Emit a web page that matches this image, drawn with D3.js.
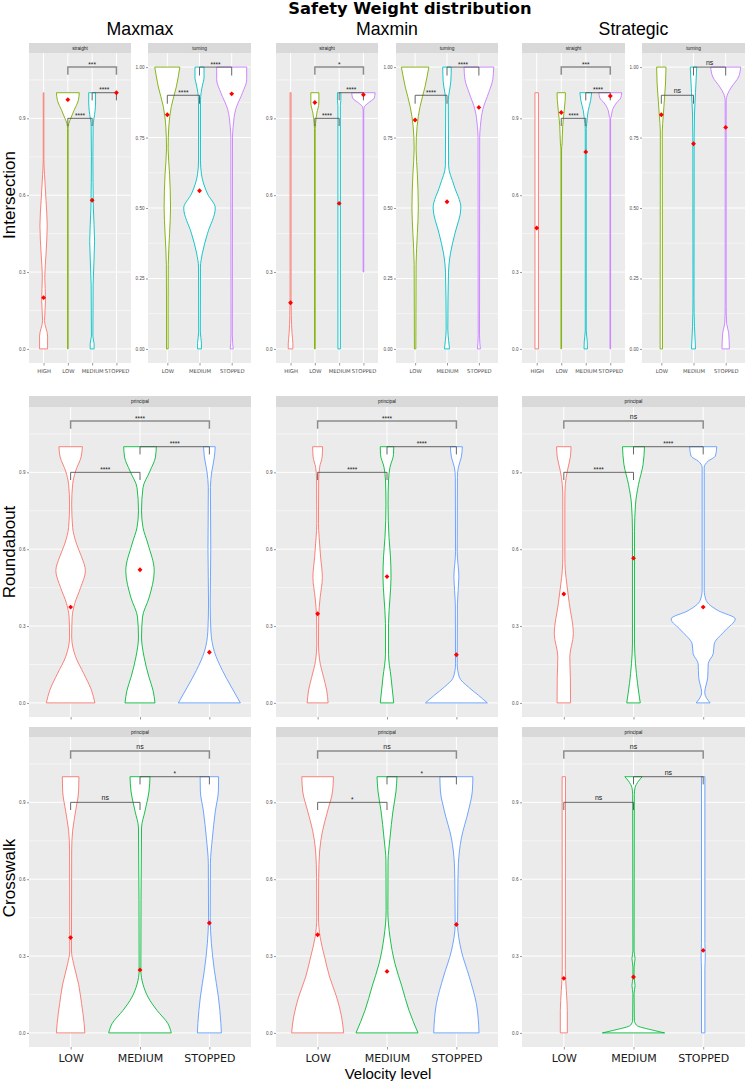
<!DOCTYPE html>
<html>
<head>
<meta charset="utf-8">
<script src="https://cdn.jsdelivr.net/npm/d3@7"></script>
<style>
  body { margin: 0; background: #fff; }
  svg { font-family: "Liberation Sans", Arial, sans-serif; }
</style>
</head>
<body>
<svg id="chart" width="748" height="1081"></svg>
<script>
// ---- labels / categories ----
const TITLE = "Safety Weight distribution";
const COLUMNS = ["Maxmax", "Maxmin", "Strategic"];
const ROWS = ["Intersection", "Roundabout", "Crosswalk"];
const X_TITLE = "Velocity level";
const LEVELS_4 = ["HIGH", "LOW", "MEDIUM", "STOPPED"];
const LEVELS_3 = ["LOW", "MEDIUM", "STOPPED"];
const COLORS_4 = ["#F8766D", "#7CAE00", "#00BFC4", "#C77CFF"];
const COLORS_3 = ["#F8766D", "#00BA38", "#619CFF"];
const TICKS_A = [0, 0.3, 0.6, 0.9];
const MINOR_A = [0.15, 0.45, 0.75, 1.05];
const TICKS_B = [0, 0.25, 0.5, 0.75, 1];
const MINOR_B = [0.125, 0.375, 0.625, 0.875];

// ---- violin outlines: [value, half width in category steps], bottom to top ----
// Intersection / straight
const MAXMAX_STRAIGHT = [
  [[0,.165],[.05,.165],[.11,.04],[.19,.08],[.28,.05],[.37,.1],[.48,.15],[.58,.1],[.68,.04],[.74,.012],[1,.012]],
  [[0,.012],[.86,.012],[.88,.04],[.9,.12],[.93,.25],[.97,.43],[1,.47]],
  [[0,.08],[.02,.08],[.05,.03],[.25,.04],[.42,.1],[.55,.05],[.75,.03],[.87,.04],[.93,.12],[.96,.14],[1,.14]],
  []
];
const MAXMIN_STRAIGHT = [
  [[0,.095],[.02,.095],[.06,.06],[.13,.03],[.2,.02],[1,.02]],
  [[0,.015],[.86,.015],[.88,.03],[.92,.08],[.96,.165],[1,.165]],
  [[0,.05],[.95,.05],[.97,.07],[1,.07]],
  [[.3,.012],[.93,.012],[.945,.04],[.96,.2],[.98,.45],[1,.48]]
];
const STRATEGIC_STRAIGHT = [
  [[0,.07],[1,.07]],
  [[0,.012],[.78,.012],[.8,.033],[.87,.06],[.93,.12],[.97,.16],[1,.17]],
  [[0,.07],[.03,.06],[.07,.02],[.86,.02],[.88,.04],[.93,.1],[.97,.2],[1,.24]],
  [[0,.012],[.9,.012],[.905,.033],[.93,.08],[.96,.25],[.98,.43],[1,.465]]
];
// Intersection / turning
const MAXMAX_TURNING = [
  [[0,.025],[.17,.025],[.3,.03],[.41,.07],[.5,.1],[.62,.07],[.71,.025],[.79,.047],[.86,.124],[.93,.28],[1,.39]],
  [[0,.06],[.02,.06],[.06,.025],[.29,.03],[.34,.09],[.41,.25],[.5,.49],[.55,.25],[.62,.06],[.67,.03],[.88,.03],[.94,.1],[.96,.14],[1,.14]],
  [[0,.047],[.02,.03],[.05,.02],[.75,.025],[.79,.047],[.85,.124],[.91,.34],[.955,.466],[1,.466]]
];
const MAXMIN_TURNING = [
  [[0,.022],[.3,.03],[.41,.07],[.5,.1],[.62,.07],[.71,.03],[.79,.062],[.86,.155],[.93,.31],[1,.43]],
  [[0,.078],[.03,.05],[.07,.025],[.27,.047],[.34,.11],[.41,.25],[.5,.435],[.58,.22],[.65,.05],[.88,.04],[.95,.12],[1,.134]],
  [[0,.047],[.02,.03],[.05,.02],[.75,.025],[.79,.047],[.85,.124],[.91,.31],[.955,.435],[1,.466]]
];
const STRATEGIC_TURNING = [
  [[0,.037],[.77,.03],[.83,.062],[.88,.093],[.94,.13],[1,.146]],
  [[0,.062],[.08,.03],[.18,.015],[.75,.02],[.83,.03],[.91,.062],[1,.1]],
  [[0,.115],[.057,.093],[.09,.03],[.15,.015],[.88,.015],[.905,.062],[.93,.186],[.965,.4],[1,.466]]
];
// Roundabout
const MAXMAX_ROUNDABOUT = [
  [[0,.35],[.05,.3],[.114,.19],[.18,.072],[.257,.015],[.335,.022],[.387,.058],[.45,.144],[.516,.213],[.57,.158],[.62,.086],[.685,.029],[.776,.015],[.853,.029],[.905,.072],[.96,.151],[1,.169]],
  [[0,.216],[.05,.187],[.1,.13],[.18,.058],[.257,.022],[.335,.036],[.41,.13],[.516,.205],[.62,.115],[.685,.043],[.75,.022],[.84,.043],[.905,.144],[.96,.223],[1,.235]],
  [[0,.447],[.062,.317],[.127,.187],[.2,.072],[.28,.022],[.39,.012],[.6,.02],[.84,.015],[.905,.036],[.96,.072],[1,.084]]
];
const MAXMIN_ROUNDABOUT = [
  [[0,.151],[.05,.13],[.1,.086],[.166,.029],[.23,.012],[.335,.015],[.41,.036],[.49,.068],[.57,.043],[.646,.022],[.7,.012],[.87,.015],[.92,.029],[.96,.065],[1,.072]],
  [[0,.097],[.1,.058],[.19,.022],[.31,.022],[.41,.043],[.49,.058],[.57,.05],[.646,.029],[.776,.015],[.87,.022],[.92,.043],[.97,.094],[1,.097]],
  [[0,.447],[.03,.317],[.062,.173],[.1,.043],[.153,.012],[.387,.015],[.49,.036],[.59,.012],[.88,.015],[.92,.029],[.96,.072],[1,.086]]
];
const STRATEGIC_ROUNDABOUT = [
  [[0,.097],[.1,.094],[.18,.086],[.27,.137],[.387,.079],[.464,.043],[.516,.022],[.57,.015],[.8,.015],[.853,.022],[.905,.05],[.96,.094],[1,.104]],
  [[0,.097],[.075,.058],[.153,.029],[.23,.015],[.67,.015],[.776,.029],[.853,.072],[.93,.137],[1,.158]],
  [[0,.1],[.04,.022],[.1,.065],[.153,.072],[.192,.144],[.23,.158],[.283,.317],[.328,.46],[.36,.216],[.4,.043],[.44,.015],[.92,.015],[.944,.072],[.963,.173],[1,.195]]
];
// Crosswalk
const MAXMAX_CROSSWALK = [
  [[0,.205],[.036,.195],[.114,.158],[.19,.115],[.27,.043],[.32,.012],[.71,.015],[.79,.029],[.866,.072],[.944,.115],[1,.12]],
  [[0,.451],[.036,.403],[.088,.245],[.14,.115],[.19,.043],[.244,.012],[.8,.022],[.866,.072],[.944,.13],[1,.144]],
  [[0,.173],[.036,.166],[.14,.13],[.244,.072],[.35,.029],[.45,.012],[.66,.015],[.76,.043],[.866,.086],[.944,.13],[1,.133]]
];
const MAXMIN_CROSSWALK = [
  [[0,.375],[.062,.346],[.14,.274],[.218,.173],[.296,.101],[.374,.036],[.45,.012],[.607,.015],[.71,.029],[.79,.072],[.866,.144],[.944,.216],[1,.228]],
  [[0,.447],[.088,.317],[.18,.216],[.27,.115],[.374,.043],[.477,.012],[.67,.015],[.76,.043],[.866,.086],[.944,.13],[1,.144]],
  [[0,.327],[.114,.288],[.218,.187],[.32,.072],[.425,.017],[.58,.022],[.66,.029],[.76,.072],[.866,.173],[.944,.23],[1,.238]]
];
const STRATEGIC_CROSSWALK = [
  [[0,.05],[.088,.05],[.166,.036],[.244,.022],[.96,.024],[1,.024]],
  [[0,.447],[.01,.288],[.03,.043],[.05,.012],[.153,.008],[.185,.022],[.218,.008],[.257,.008],[.29,.022],[.32,.008],[.93,.012],[.957,.022],[.983,.072],[1,.125]],
  [[0,.024],[.25,.024],[.3,.03],[.35,.024],[1,.024]]
];

// ---- group means (red diamonds) ----
const MEANS_STRAIGHT = [[0.20, 0.973, 0.58, 1.0], [0.18, 0.962, 0.568, 0.992], [0.472, 0.923, 0.769, 0.987]];
const MEANS_TURNING = [[0.831, 0.561, 0.905], [0.812, 0.522, 0.857], [0.831, 0.728, 0.786]];
const MEANS_ROUNDABOUT = [[0.374, 0.52, 0.198], [0.348, 0.493, 0.188], [0.425, 0.565, 0.374]];
const MEANS_CROSSWALK = [[0.372, 0.246, 0.429], [0.383, 0.24, 0.423], [0.213, 0.218, 0.322]];

// ---- pairwise comparisons: [group a, group b, bracket height, label] ----
const CMP_STRAIGHT = [
  [["LOW","MEDIUM",0.9,"****"], ["MEDIUM","STOPPED",1.0,"****"], ["LOW","STOPPED",1.1,"***"]],
  [["LOW","MEDIUM",0.9,"****"], ["MEDIUM","STOPPED",1.0,"****"], ["LOW","STOPPED",1.1,"*"]],
  [["LOW","MEDIUM",0.9,"****"], ["MEDIUM","STOPPED",1.0,"****"], ["LOW","STOPPED",1.1,"***"]]
];
const CMP_TURNING = [
  [["LOW","MEDIUM",0.9,"****"], ["MEDIUM","STOPPED",1.0,"****"]],
  [["LOW","MEDIUM",0.9,"****"], ["MEDIUM","STOPPED",1.0,"****"]],
  [["LOW","MEDIUM",0.9,"ns"], ["MEDIUM","STOPPED",1.0,"ns"]]
];
const CMP_ROUNDABOUT = [
  [["LOW","MEDIUM",0.9,"****"], ["MEDIUM","STOPPED",1.0,"****"], ["LOW","STOPPED",1.1,"****"]],
  [["LOW","MEDIUM",0.9,"****"], ["MEDIUM","STOPPED",1.0,"****"], ["LOW","STOPPED",1.1,"****"]],
  [["LOW","MEDIUM",0.9,"****"], ["MEDIUM","STOPPED",1.0,"****"], ["LOW","STOPPED",1.1,"ns"]]
];
const CMP_CROSSWALK = [
  [["LOW","MEDIUM",0.9,"ns"], ["MEDIUM","STOPPED",1.0,"*"], ["LOW","STOPPED",1.1,"ns"]],
  [["LOW","MEDIUM",0.9,"*"], ["MEDIUM","STOPPED",1.0,"*"], ["LOW","STOPPED",1.1,"ns"]],
  [["LOW","MEDIUM",0.9,"ns"], ["MEDIUM","STOPPED",1.0,"ns"], ["LOW","STOPPED",1.1,"ns"]]
];

const STRAIGHT = [MAXMAX_STRAIGHT, MAXMIN_STRAIGHT, STRATEGIC_STRAIGHT];
const TURNING = [MAXMAX_TURNING, MAXMIN_TURNING, STRATEGIC_TURNING];
const ROUNDABOUT = [MAXMAX_ROUNDABOUT, MAXMIN_ROUNDABOUT, STRATEGIC_ROUNDABOUT];
const CROSSWALK = [MAXMAX_CROSSWALK, MAXMIN_CROSSWALK, STRATEGIC_CROSSWALK];

// ---- layout ----
const svg = d3.select("#chart");
const ROW_BOX = [
  { strip: 43, top: 53, bottom: 363 },
  { strip: 396, top: 407, bottom: 717 },
  { strip: 727, top: 737, bottom: 1047 }
];
const COL_BOX = [[29, 251], [276, 498], [522, 745]];
const SPLIT_BOX = [[[29, 131], [148, 251]], [[276, 378], [396, 498]], [[522, 625], [642, 745]]];
const VERDANA = "'DejaVu Sans', Verdana, sans-serif";

const facets = [];
COLUMNS.forEach((c, ci) => {
  facets.push({ row: 0, xr: SPLIT_BOX[ci][0], strip: "straight", levels: LEVELS_4, colors: COLORS_4,
    yMax: 1.1, ticks: TICKS_A, minor: MINOR_A, fmt: d3.format(".1f"),
    violins: STRAIGHT[ci], means: MEANS_STRAIGHT[ci], cmp: CMP_STRAIGHT[ci], xlab: "small" });
  facets.push({ row: 0, xr: SPLIT_BOX[ci][1], strip: "turning", levels: LEVELS_3, colors: COLORS_4.slice(1),
    yMax: 1.0, ticks: TICKS_B, minor: MINOR_B, fmt: d3.format(".2f"),
    violins: TURNING[ci], means: MEANS_TURNING[ci], cmp: CMP_TURNING[ci], xlab: "small" });
  facets.push({ row: 1, xr: COL_BOX[ci], strip: "principal", levels: LEVELS_3, colors: COLORS_3,
    yMax: 1.1, ticks: TICKS_A, minor: MINOR_A, fmt: d3.format(".1f"),
    violins: ROUNDABOUT[ci], means: MEANS_ROUNDABOUT[ci], cmp: CMP_ROUNDABOUT[ci], xlab: "none" });
  facets.push({ row: 2, xr: COL_BOX[ci], strip: "principal", levels: LEVELS_3, colors: COLORS_3,
    yMax: 1.1, ticks: TICKS_A, minor: MINOR_A, fmt: d3.format(".1f"),
    violins: CROSSWALK[ci], means: MEANS_CROSSWALK[ci], cmp: CMP_CROSSWALK[ci], xlab: "big" });
});

facets.forEach((f, i) => drawFacet(f, i));

function drawFacet(f, idx) {
  const box = ROW_BOX[f.row];
  const [x0, x1] = f.xr;
  const x = d3.scalePoint().domain(f.levels).range([x0, x1]).padding(0.6);
  const step = x.step();
  const y = d3.scaleLinear().domain([-0.05 * f.yMax, 1.05 * f.yMax]).range([box.bottom, box.top]);
  const g = svg.append("g");

  // strip
  g.append("rect").attr("x", x0).attr("y", box.strip).attr("width", x1 - x0)
    .attr("height", box.top - box.strip).attr("fill", "#D9D9D9");
  g.append("text").attr("x", (x0 + x1) / 2).attr("y", (box.strip + box.top) / 2 + 1.6)
    .attr("text-anchor", "middle").attr("font-size", 4.8).attr("fill", "#1A1A1A").text(f.strip);

  // panel
  g.append("rect").attr("x", x0).attr("y", box.top).attr("width", x1 - x0)
    .attr("height", box.bottom - box.top).attr("fill", "#EBEBEB");
  g.selectAll(".minor").data(f.minor).join("line")
    .attr("x1", x0).attr("x2", x1).attr("y1", d => y(d)).attr("y2", d => y(d))
    .attr("stroke", "#fff").attr("stroke-width", 0.5);
  g.selectAll(".major").data(f.ticks).join("line")
    .attr("x1", x0).attr("x2", x1).attr("y1", d => y(d)).attr("y2", d => y(d))
    .attr("stroke", "#fff").attr("stroke-width", 1);
  g.selectAll(".vgrid").data(f.levels).join("line")
    .attr("x1", d => x(d)).attr("x2", d => x(d)).attr("y1", box.top).attr("y2", box.bottom)
    .attr("stroke", "#fff").attr("stroke-width", 1);

  // y axis
  const ya = g.append("g").attr("transform", `translate(${x0},0)`)
    .call(d3.axisLeft(y).tickValues(f.ticks).tickFormat(f.fmt).tickSize(2).tickPadding(1.5));
  ya.select(".domain").remove();
  ya.selectAll("line").attr("stroke", "#333").attr("stroke-width", 0.5);
  ya.selectAll("text").attr("fill", "#4D4D4D")
    .style("font-size", "4.6px").style("font-family", "'Liberation Sans', Arial, sans-serif");

  // x axis
  const xa = g.append("g").attr("transform", `translate(0,${box.bottom})`)
    .call(d3.axisBottom(x).tickSize(2.5).tickPadding(f.xlab === "big" ? 5 : 3.5));
  xa.select(".domain").remove();
  xa.selectAll("line").attr("stroke", "#333").attr("stroke-width", 0.5);
  if (f.xlab === "none") xa.selectAll("text").remove();
  else if (f.xlab === "small") xa.selectAll("text").attr("fill", "#4D4D4D")
    .style("font-size", "5.3px").style("font-family", VERDANA);
  else xa.selectAll("text").attr("fill", "#1A1A1A")
    .style("font-size", "11px").style("font-family", VERDANA);

  // clip
  const clipId = "clip" + idx;
  g.append("clipPath").attr("id", clipId).append("rect")
    .attr("x", x0).attr("y", box.top).attr("width", x1 - x0).attr("height", box.bottom - box.top);
  const plot = g.append("g").attr("clip-path", `url(#${clipId})`);

  // violins
  f.levels.forEach((lv, k) => {
    const prof = f.violins[k];
    if (!prof || !prof.length) return;
    const cx = x(lv);
    const area = d3.area().curve(d3.curveMonotoneY)
      .y(d => y(d[0]))
      .x0(d => cx - d[1] * step)
      .x1(d => cx + d[1] * step);
    plot.append("path").attr("d", area(prof))
      .attr("fill", "#fff").attr("stroke", f.colors[k]).attr("stroke-width", 0.9)
      .attr("stroke-linejoin", "round");
  });

  // comparison brackets
  const tip = 0.03;
  f.cmp.forEach(([a, b, h, lab]) => {
    const top = h > 1.05;
    plot.append("path")
      .attr("d", `M${x(a)},${y(h - tip)}V${y(h)}H${x(b)}V${y(h - tip)}`)
      .attr("fill", "none")
      .attr("stroke", top ? "#8C8C8C" : "#555")
      .attr("stroke-width", top ? 1.5 : 0.9);
    plot.append("text").attr("x", (x(a) + x(b)) / 2)
      .attr("y", y(h) - (lab === "ns" ? 2 : 0.5))
      .attr("text-anchor", "middle")
      .attr("font-size", lab === "ns" ? 7 : 6.5)
      .attr("fill", "#1A1A1A").text(lab);
  });

  // means
  plot.selectAll(".mean").data(f.means).join("path")
    .attr("d", d3.symbol().type(d3.symbolSquare).size(12)())
    .attr("transform", (d, k) => `translate(${x(f.levels[k])},${y(d)}) rotate(45)`)
    .attr("fill", "#FF0000");
}

// ---- titles ----
svg.append("text").attr("x", 410).attr("y", 13.5).attr("text-anchor", "middle")
  .style("font-family", VERDANA).style("font-weight", "bold").style("font-size", "16.3px")
  .attr("fill", "#000").text(TITLE);

COLUMNS.forEach((c, ci) => {
  svg.append("text").attr("x", (COL_BOX[ci][0] + COL_BOX[ci][1]) / 2)
    .attr("y", 34.5).attr("text-anchor", "middle").attr("font-size", 17.7).attr("fill", "#000").text(c);
});

const ROW_CENTERS = [195, 552, 878];
ROWS.forEach((r, ri) => {
  svg.append("text").attr("transform", `translate(14.5,${ROW_CENTERS[ri]}) rotate(-90)`)
    .attr("text-anchor", "middle").attr("font-size", 17).attr("fill", "#000").text(r);
});

svg.append("text").attr("x", 388).attr("y", 1078.5).attr("text-anchor", "middle")
  .attr("font-size", 15).attr("fill", "#000").text(X_TITLE);
</script>
</body>
</html>
